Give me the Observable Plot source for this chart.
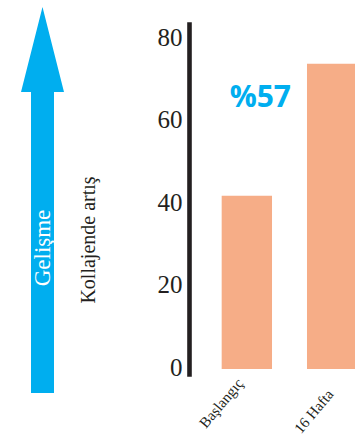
<!DOCTYPE html>
<html>
<head>
<meta charset="utf-8">
<script src="https://cdn.jsdelivr.net/npm/d3@7"></script>
<script src="https://cdn.jsdelivr.net/npm/@observablehq/plot@0.6"></script>
<style>
  html, body { margin: 0; padding: 0; background: #fff; overflow: hidden; }
  #chart { position: relative; width: 355px; height: 437px; }
</style>
</head>
<body>
<div id="chart"></div>
<script>
// Collagen increase: baseline vs. after 16 weeks
const categories = ["Başlangıç", "16 Hafta"];
const values = [42, 74];
const yTicks = [0, 20, 40, 60, 80];
const yLabel = "Kollajende artış";
const arrowLabel = "Gelişme";
const increaseText = ["%57"];
const increaseY = [66];

const data = categories.map((c, i) => ({category: c, value: values[i]}));

const serif = "'Liberation Serif', 'Times New Roman', serif";
const barColor = "#F6AD87";
const blue = "#00AEEF";
const ink = "#231F20";

const plot = Plot.plot({
  width: 355,
  height: 437,
  marginTop: 39,
  marginBottom: 68,
  marginLeft: 189,
  marginRight: 0,
  style: {background: "#fff", overflow: "visible"},
  x: {domain: categories, range: [189, 390], paddingInner: 0.41, paddingOuter: 0.383, align: 0.5, round: false, axis: null},
  y: {domain: [0, 80], axis: null},
  marks: [
    Plot.barY(data, {x: "category", y: "value", fill: barColor}),
    Plot.frame({anchor: "left", stroke: ink, strokeWidth: 4.6, insetTop: -15, insetBottom: -5}),
    Plot.axisY({ticks: yTicks, tickSize: 0, tickPadding: 7, dy: -2, fontSize: 25, fontFamily: serif, fill: ink, label: null}),
    Plot.text([categories[0]], {x: d => d, frameAnchor: "bottom", textAnchor: "end", lineAnchor: "middle",
      rotate: -50, dx: -7, dy: 11, fontSize: 15, fontFamily: serif, fill: ink}),
    Plot.text([categories[1]], {x: d => d, frameAnchor: "bottom", textAnchor: "end", lineAnchor: "middle",
      rotate: -50, dx: -2, dy: 22, fontSize: 15, fontFamily: serif, fill: ink}),
    Plot.text(increaseText, {x: () => categories[0], y: (d, i) => increaseY[i], dx: 13, lineAnchor: "middle",
      fontSize: 30, fontWeight: 700, fontFamily: "'Open Sans', sans-serif", fill: blue})
  ]
});

// Progress arrow and rotated labels in the left margin
const svg = d3.select(plot);
const deco = svg.insert("g", ":first-child");
deco.append("path")
  .attr("d", "M42.5,7 L64,92 L54,92 L54,393 L31,393 L31,92 L21,92 Z")
  .attr("fill", blue);
deco.append("text")
  .attr("transform", "translate(50,248) rotate(-90)")
  .attr("text-anchor", "middle")
  .attr("font-family", serif)
  .attr("font-size", 23)
  .attr("fill", "#fff")
  .text(arrowLabel);
deco.append("text")
  .attr("transform", "translate(95,240) rotate(-90)")
  .attr("text-anchor", "middle")
  .attr("font-family", serif)
  .attr("font-size", 20)
  .attr("fill", ink)
  .text(yLabel);

document.getElementById("chart").appendChild(plot);
</script>
</body>
</html>
